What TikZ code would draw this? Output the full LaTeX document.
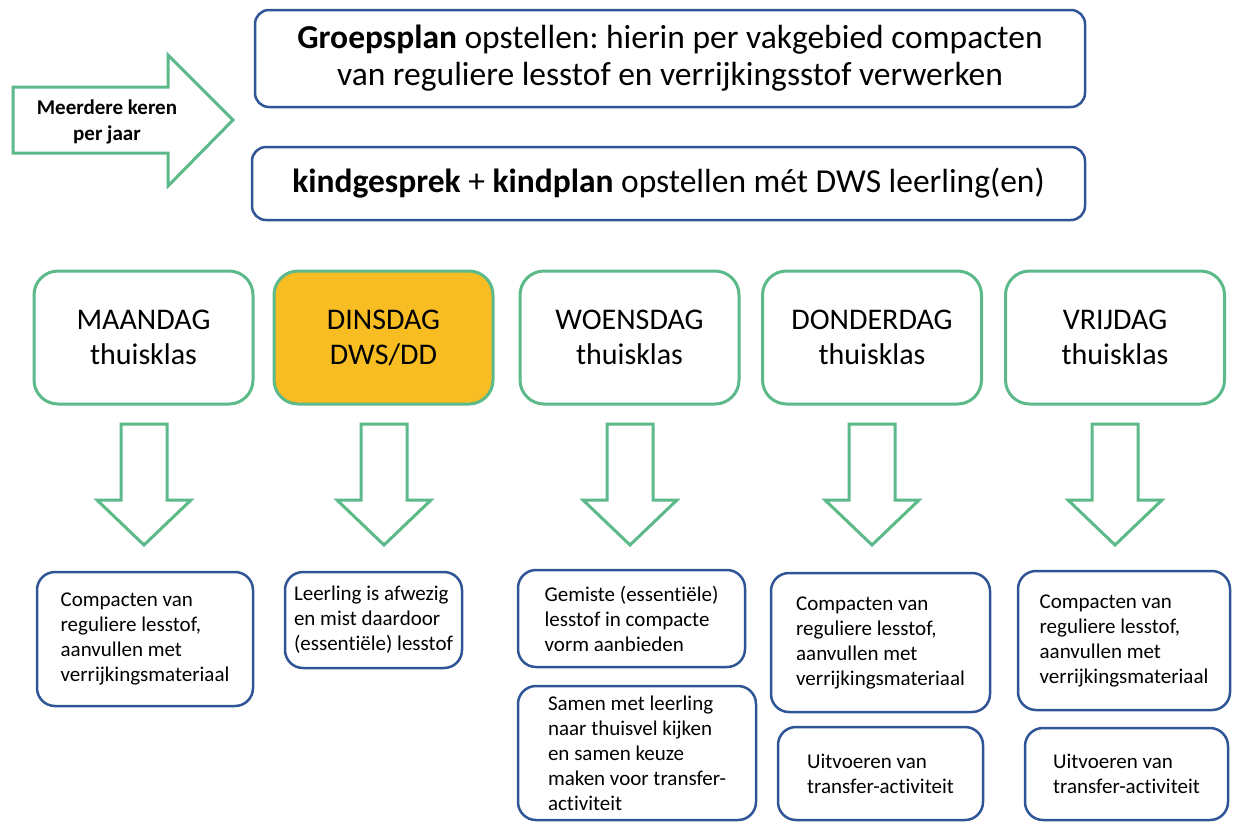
\documentclass[tikz,border=0pt]{standalone}
\usepackage{fontspec}
\setmainfont{Carlito}[Ligatures=NoCommon]
\frenchspacing
\definecolor{grn}{HTML}{5BB98A}
\definecolor{blu}{HTML}{2F5597}
\definecolor{org}{HTML}{F8BD22}
\begin{document}
\begin{tikzpicture}[x=1pt,y=-1pt,
  topbox/.style={draw=blu, line width=2.5pt, rounded corners=14pt, fill=white, align=center, inner sep=0pt, font=\fontsize{33.5}{37}\selectfont},
  daybox/.style={draw=grn, line width=3pt, rounded corners=24pt, minimum width=219pt, minimum height=133pt, align=center, inner sep=0pt, font=\fontsize{30}{35}\selectfont},
  notebox/.style={draw=blu, line width=2.5pt, rounded corners=18pt, align=left, inner sep=0pt, font=\fontsize{21}{25}\selectfont},
  bigarrow/.style={draw=grn, line width=3pt, fill=white, miter limit=10}
]
\useasboundingbox (0,0) rectangle (1233,823);

% right arrow
\draw[bigarrow] (13,87) -- (168,87) -- (168,55) -- (233,120) -- (168,186) -- (168,153) -- (13,153) -- cycle;
\node[align=center, font=\fontsize{21}{26}\bfseries\selectfont] (freq) at (107,122) {Meerdere keren\\per jaar};

% top boxes
\node[topbox, minimum width=830pt, minimum height=97pt] (groep) at (670,58.5)
  {\textbf{Groepsplan} opstellen: hierin per vakgebied compacten\\van reguliere lesstof en verrijkingsstof verwerken};
\node[topbox, minimum width=833pt, minimum height=73pt] (kind) at (668.5,183.5)
  {\textbf{kindgesprek} + \textbf{kindplan} opstellen mét DWS leerling(en)};

% day boxes
\node[daybox] (ma) at (143.5,337.5) {MAANDAG\\thuisklas};
\node[daybox, fill=org] (di) at (383.5,337.5) {DINSDAG\\DWS/DD};
\node[daybox] (wo) at (629.5,337.5) {WOENSDAG\\thuisklas};
\node[daybox] (do) at (872,337.5) {DONDERDAG\\thuisklas};
\node[daybox] (vr) at (1115,337.5) {VRIJDAG\\thuisklas};

% down arrows
\foreach \cx in {144,384,630,872,1115}{
  \draw[bigarrow] (\cx-23,424) -- (\cx+23,424) -- (\cx+23,500) -- (\cx+47,500) -- (\cx,545) -- (\cx-47,500) -- (\cx-23,500) -- cycle;
}

% bottom boxes
\node[notebox, minimum width=216pt, minimum height=134pt] (b1) at (145,639)
  {Compacten van\\reguliere lesstof,\\aanvullen met\\verrijkingsmateriaal};
\node[notebox, minimum width=177pt, minimum height=96pt] (b2) at (373.5,620)
  {Leerling is afwezig\\en mist daardoor\\(essentiële) lesstof};
\node[notebox, minimum width=227pt, minimum height=97pt] (b3) at (631.5,618.5)
  {Gemiste (essentiële)\\lesstof in compacte\\vorm aanbieden};
\node[notebox, minimum width=238pt, minimum height=134pt] (b4) at (637,753)
  {Samen met leerling\\naar thuisvel kijken\\en samen keuze\\maken voor transfer-\\activiteit};
\node[notebox, minimum width=219pt, minimum height=139pt] (b5) at (880.5,642.5)
  {Compacten van\\reguliere lesstof,\\aanvullen met\\verrijkingsmateriaal};
\node[notebox, minimum width=205pt, minimum height=93pt] (b6) at (880.5,773.5)
  {Uitvoeren van\\transfer-activiteit};
\node[notebox, minimum width=212pt, minimum height=139pt] (b7) at (1124,640.5)
  {Compacten van\\reguliere lesstof,\\aanvullen met\\verrijkingsmateriaal};
\node[notebox, minimum width=203pt, minimum height=92pt] (b8) at (1126.5,774)
  {Uitvoeren van\\transfer-activiteit};
\end{tikzpicture}
\end{document}
